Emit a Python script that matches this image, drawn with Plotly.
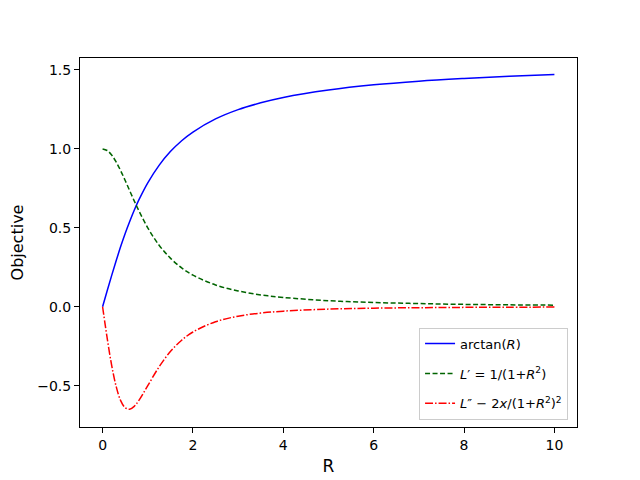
import plotly.graph_objects as go

# values
r = [0, 0.1, 0.2, 0.3, 0.4, 0.5, 0.6, 0.7, 0.8, 1.0, 1.25, 1.5, 1.75, 2.0,
     2.5, 3.0, 3.5, 4.0, 5.0, 6.0, 7.0, 8.0, 9.0, 10.0]
arctan_r = [0, 0.100, 0.197, 0.291, 0.381, 0.464, 0.540, 0.611, 0.675, 0.785,
            0.896, 0.983, 1.052, 1.107, 1.190, 1.249, 1.292, 1.326, 1.373,
            1.406, 1.429, 1.446, 1.460, 1.471]
first_deriv = [1.0, 0.990, 0.962, 0.917, 0.862, 0.800, 0.735, 0.671, 0.610,
               0.500, 0.390, 0.308, 0.246, 0.200, 0.138, 0.100, 0.075, 0.059,
               0.038, 0.027, 0.020, 0.015, 0.012, 0.010]
second_deriv = [0, -0.196, -0.370, -0.505, -0.595, -0.640, -0.649, -0.631,
                -0.595, -0.500, -0.381, -0.284, -0.212, -0.160, -0.095, -0.060,
                -0.040, -0.028, -0.015, -0.009, -0.006, -0.004, -0.003, -0.002]

fig = go.Figure()

fig.add_trace(go.Scatter(x=r, y=arctan_r, mode='lines', name='arctan(<i>R</i>)',
                         legendgroup='a',
                         line=dict(color='#0000ff', width=1.5, shape='spline')))
fig.add_trace(go.Scatter(x=r, y=first_deriv, mode='lines',
                         name="<i>L</i>′ = 1/(1+<i>R</i><sup>2</sup>)",
                         legendgroup='b',
                         line=dict(color='#006400', width=1.5, shape='spline',
                                   dash='5px,2.5px')))
fig.add_trace(go.Scatter(x=r, y=second_deriv, mode='lines',
                         name="<i>L</i>″ − 2<i>x</i>/(1+<i>R</i><sup>2</sup>)<sup>2</sup>",
                         legendgroup='c',
                         line=dict(color='#ff0000', width=1.5, shape='spline',
                                   dash='8px,2px,1.5px,2px')))

fig.update_layout(
    width=640, height=480,
    margin=dict(l=72, r=71, t=50, b=61),
    plot_bgcolor='white', paper_bgcolor='white',
    font=dict(family='DejaVu Sans', size=14, color='black'),
    showlegend=True,
    legend=dict(x=0.982, y=0.02, xanchor='right', yanchor='bottom',
                bgcolor='white', bordercolor='#cccccc', borderwidth=1,
                font=dict(size=13), tracegroupgap=10, itemwidth=30),
)

fig.update_xaxes(title_text='R', range=[-0.5, 10.5], tickvals=[0, 2, 4, 6, 8, 10],
                 showgrid=False, zeroline=False, showline=True, linecolor='black',
                 linewidth=1, mirror=True, ticks='outside', ticklen=5,
                 tickcolor='black', title_standoff=8, automargin=False)
fig.update_yaxes(title_text='Objective', range=[-0.762, 1.576],
                 tickvals=[-0.5, 0, 0.5, 1.0, 1.5],
                 ticktext=['−0.5', '0.0', '0.5', '1.0', '1.5'],
                 showgrid=False, zeroline=False, showline=True, linecolor='black',
                 linewidth=1, mirror=True, ticks='outside', ticklen=5,
                 tickcolor='black', title_font=dict(size=16), title_standoff=19,
                 automargin=False)

fig.write_html("out.html")
